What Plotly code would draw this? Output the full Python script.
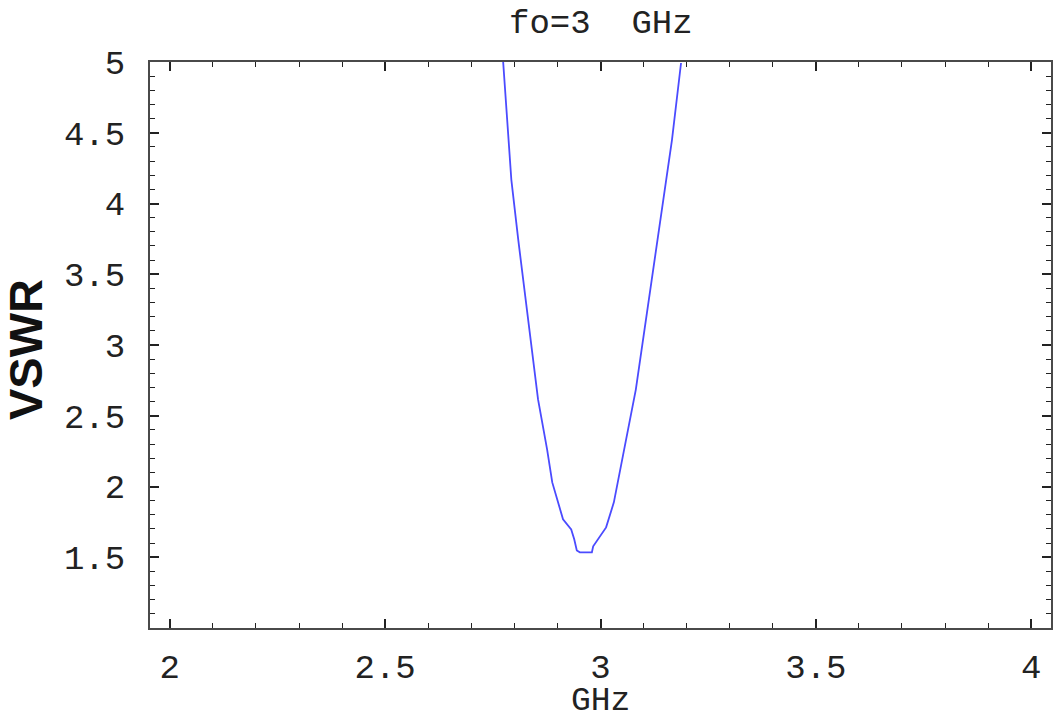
import plotly.graph_objects as go

# Frequency (GHz) and VSWR
freq = [2.774, 2.793, 2.809, 2.834, 2.855, 2.876, 2.888, 2.913, 2.932, 2.939,
        2.943, 2.945, 2.952, 2.980, 2.983, 2.997, 3.013, 3.031, 3.043, 3.054,
        3.082, 3.119, 3.166, 3.187]
vswr = [5.00, 4.167, 3.744, 3.109, 2.615, 2.262, 2.029, 1.768, 1.697, 1.627,
        1.563, 1.548, 1.535, 1.535, 1.577, 1.641, 1.711, 1.888, 2.071, 2.262,
        2.685, 3.462, 4.450, 4.993]

x_tickvals = [2, 2.5, 3, 3.5, 4]
x_ticktext = ["2", "2.5", "3", "3.5", "4"]
y_tickvals = [1.5, 2, 2.5, 3, 3.5, 4, 4.5, 5]
y_ticktext = ["1.5", "2", "2.5", "3", "3.5", "4", "4.5", "5"]

title_text = "fo=3\u00a0\u00a0GHz"
x_label = "GHz"
y_label = "VSWR"

mono = "Liberation Mono, Courier New, monospace"

fig = go.Figure()
fig.add_trace(go.Scatter(x=freq, y=vswr, mode="lines",
                         line=dict(color="rgb(75,75,255)", width=1.8),
                         showlegend=False, hoverinfo="skip"))

axis_common = dict(
    showgrid=False, zeroline=False, showline=True, linecolor="#4a4a4a",
    linewidth=2, mirror="ticks", ticks="inside", ticklen=9, tickwidth=1.5,
    tickcolor="#222", tickfont=dict(family=mono, size=34, color="#222"),
)

fig.update_xaxes(range=[1.954, 4.046], tickvals=x_tickvals, ticktext=x_ticktext,
                 minor=dict(ticks="inside", ticklen=5, tickwidth=1.2, tickcolor="#222",
                            dtick=0.1, tick0=2),
                 ticklabelstandoff=7, **axis_common)
fig.update_yaxes(range=[1.0, 5.0], tickvals=y_tickvals, ticktext=y_ticktext,
                 minor=dict(ticks="inside", ticklen=5, tickwidth=1.2, tickcolor="#222",
                            dtick=0.1, tick0=1),
                 ticklabelstandoff=16, **axis_common)

fig.add_annotation(text=title_text, xref="paper", yref="paper", x=0.5, y=1.0,
                   yshift=38, xanchor="center", yanchor="middle", showarrow=False,
                   font=dict(family=mono, size=34, color="#222"))
fig.add_annotation(text=x_label, xref="paper", yref="paper", x=0.5, y=0.0,
                   yshift=-73, xanchor="center", yanchor="middle", showarrow=False,
                   font=dict(family=mono, size=33, color="#222"))
fig.add_annotation(text="<b>" + y_label + "</b>", xref="paper", yref="paper", x=0.0,
                   y=0.5, xshift=-125, yshift=-5, textangle=-90, xanchor="center",
                   yanchor="middle", showarrow=False,
                   font=dict(family="Liberation Sans, Arial, sans-serif", size=47,
                             color="#111"))

fig.update_layout(width=1056, height=719, margin=dict(l=150, r=3, t=62, b=91),
                  plot_bgcolor="white", paper_bgcolor="white")

fig.write_html("out.html")
